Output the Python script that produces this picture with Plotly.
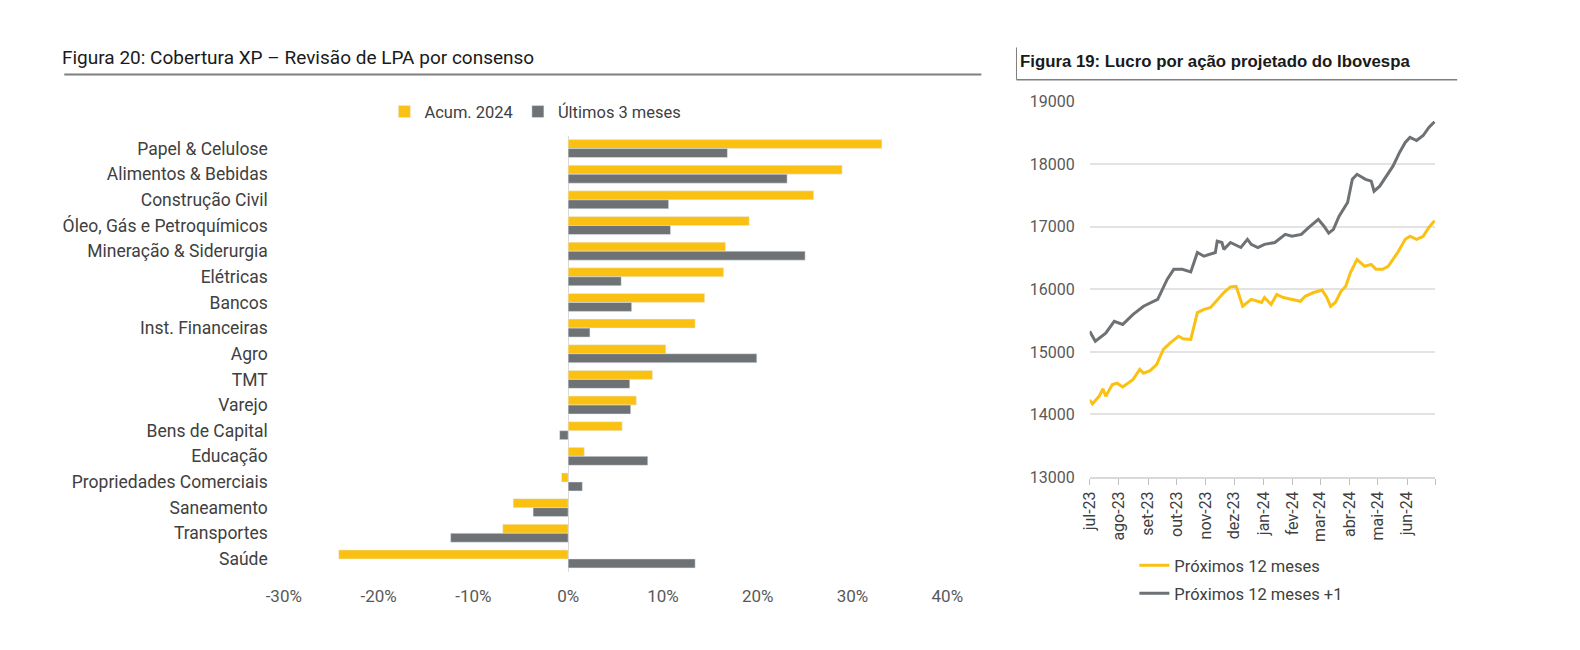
import plotly.graph_objects as go

# Figura 20 - revisao de LPA por setor (%)
setores = ["Papel & Celulose", "Alimentos & Bebidas", "Construção Civil",
           "Óleo, Gás e Petroquímicos", "Mineração & Siderurgia", "Elétricas",
           "Bancos", "Inst. Financeiras", "Agro", "TMT", "Varejo",
           "Bens de Capital", "Educação", "Propriedades Comerciais",
           "Saneamento", "Transportes", "Saúde"]
acum_2024 = [33.1, 28.9, 25.9, 19.1, 16.6, 16.4, 14.4, 13.4, 10.3, 8.9, 7.2,
             5.7, 1.7, -0.7, -5.8, -6.9, -24.2]
ultimos_3m = [16.8, 23.1, 10.6, 10.8, 25.0, 5.6, 6.7, 2.3, 19.9, 6.5, 6.6,
              -0.9, 8.4, 1.5, -3.7, -12.4, 13.4]
pct_ticks = [-30, -20, -10, 0, 10, 20, 30, 40]

# Figura 19 - LPA projetado do Ibovespa
datas_12m = ["2023-07-01", "2023-07-04", "2023-07-11", "2023-07-15", "2023-07-18",
             "2023-07-25", "2023-07-30", "2023-08-05", "2023-08-16", "2023-08-23",
             "2023-08-27", "2023-09-03", "2023-09-10", "2023-09-17", "2023-09-24",
             "2023-10-03", "2023-10-08", "2023-10-16", "2023-10-23", "2023-10-30",
             "2023-11-06", "2023-11-13", "2023-11-20", "2023-11-27", "2023-12-03",
             "2023-12-10", "2023-12-19", "2023-12-30", "2024-01-02", "2024-01-09",
             "2024-01-15", "2024-01-22", "2024-01-31", "2024-02-09", "2024-02-14",
             "2024-02-23", "2024-03-03", "2024-03-08", "2024-03-12", "2024-03-17",
             "2024-03-23", "2024-03-28", "2024-04-02", "2024-04-09", "2024-04-17",
             "2024-04-24", "2024-04-29", "2024-05-06", "2024-05-12", "2024-05-17",
             "2024-05-22", "2024-05-30", "2024-06-04", "2024-06-11", "2024-06-18",
             "2024-06-24", "2024-06-30"]
lpa_12m = [14235, 14170, 14290, 14410, 14290, 14480, 14500, 14440, 14560, 14720,
           14660, 14700, 14800, 15040, 15140, 15250, 15210, 15200, 15630, 15680,
           15710, 15830, 15950, 16040, 16050, 15730, 15840, 15790, 15870, 15760,
           15920, 15870, 15840, 15810, 15890, 15950, 15990, 15870, 15730, 15790,
           15970, 16050, 16270, 16480, 16370, 16400, 16320, 16320, 16370, 16480,
           16590, 16800, 16850, 16800, 16850, 16990, 17100]

datas_12m1 = ["2023-07-01", "2023-07-07", "2023-07-18", "2023-07-27", "2023-08-05",
              "2023-08-16", "2023-08-27", "2023-09-11", "2023-09-21", "2023-09-28",
              "2023-10-07", "2023-10-16", "2023-10-23", "2023-10-30", "2023-11-11",
              "2023-11-13", "2023-11-18", "2023-11-20", "2023-11-27", "2023-12-08",
              "2023-12-15", "2023-12-19", "2023-12-26", "2024-01-02", "2024-01-13",
              "2024-01-24", "2024-01-31", "2024-02-10", "2024-02-18", "2024-02-28",
              "2024-03-05", "2024-03-10", "2024-03-15", "2024-03-21", "2024-03-30",
              "2024-04-04", "2024-04-09", "2024-04-18", "2024-04-24", "2024-04-27",
              "2024-05-03", "2024-05-10", "2024-05-17", "2024-05-24", "2024-05-30",
              "2024-06-04", "2024-06-11", "2024-06-18", "2024-06-24", "2024-06-30"]
lpa_12m1 = [15330, 15170, 15300, 15490, 15440, 15600, 15730, 15840, 16160, 16320,
            16320, 16280, 16590, 16530, 16590, 16770, 16750, 16640, 16750, 16670,
            16800, 16720, 16670, 16720, 16750, 16880, 16850, 16880, 16990, 17120,
            17010, 16900, 16960, 17170, 17390, 17760, 17840, 17760, 17730, 17570,
            17650, 17810, 17970, 18190, 18350, 18430, 18380, 18460, 18590, 18680]

mes_vals = ["2023-07-01", "2023-08-01", "2023-09-01", "2023-10-01", "2023-11-01",
            "2023-12-01", "2024-01-01", "2024-02-01", "2024-03-01", "2024-04-01",
            "2024-05-01", "2024-06-01", "2024-07-01"]
mes_text = ["jul-23", "ago-23", "set-23", "out-23", "nov-23", "dez-23", "jan-24",
            "fev-24", "mar-24", "abr-24", "mai-24", "jun-24", ""]

AMARELO = "#FBC112"
CINZA = "#6E7275"
W, H = 1564, 634


def px(x):
    # posicao em pixels da pagina (a figura fica com 8px de margem do body)
    return (x - 8) / W


def py(y):
    return 1 - (y - 8) / H


fig = go.Figure()

fig.add_trace(go.Bar(y=setores, x=acum_2024, orientation="h", name="Acum. 2024",
                     marker_color=AMARELO, xaxis="x", yaxis="y"))
fig.add_trace(go.Bar(y=setores, x=ultimos_3m, orientation="h", name="Últimos 3 meses",
                     marker_color=CINZA, xaxis="x", yaxis="y"))

fig.add_trace(go.Scatter(x=datas_12m, y=lpa_12m, mode="lines", name="Próximos 12 meses",
                         line=dict(color=AMARELO, width=3), xaxis="x2", yaxis="y2",
                         legend="legend2"))
fig.add_trace(go.Scatter(x=datas_12m1, y=lpa_12m1, mode="lines", name="Próximos 12 meses +1",
                         line=dict(color=CINZA, width=3), xaxis="x2", yaxis="y2",
                         legend="legend3"))

fig.update_layout(
    width=W, height=H, autosize=False,
    margin=dict(l=0, r=0, t=0, b=0),
    plot_bgcolor="white", paper_bgcolor="white",
    font=dict(family="Roboto", size=15, color="#404040"),
    barmode="group", bargap=0.3, bargroupgap=0,
    xaxis=dict(domain=[px(271.5), px(949.8)], range=[-30, 40], tickvals=pct_ticks,
               ticktext=[f"{v}%" for v in pct_ticks], showgrid=False,
               zeroline=True, zerolinecolor="#D9D9D9", zerolinewidth=1,
               tickfont=dict(size=17, color="#595959"), ticklabelstandoff=12,
               anchor="y"),
    yaxis=dict(domain=[py(579.9), py(130.4)], autorange="reversed", showgrid=False,
               tickfont=dict(size=17.5, color="#404040"), ticklabelstandoff=15,
               anchor="x"),
    xaxis2=dict(domain=[px(1095.3), px(1448.8)], type="date",
                range=["2023-07-01", "2024-07-01"], tickvals=mes_vals, ticktext=mes_text,
                tickangle=-90, ticks="outside", ticklen=6, tickcolor="#BFBFBF",
                showline=True, linecolor="#D9D9D9", linewidth=2, showgrid=False,
                tickfont=dict(size=16, color="#404040"), anchor="y2"),
    yaxis2=dict(domain=[py(482.2), py(95.4)], range=[13000, 19000], dtick=1000,
                showgrid=True, gridcolor="#E3E3E3", gridwidth=2, zeroline=False,
                tickformat="d", tickfont=dict(size=16, color="#595959"),
                ticklabelstandoff=14, anchor="x2"),
    legend=dict(orientation="h", x=px(528.7), xanchor="center", y=py(105.8),
                yanchor="middle", font=dict(size=16.5, color="#404040"),
                bgcolor="rgba(0,0,0,0)"),
    legend2=dict(x=px(1141), xanchor="left", y=py(573.4), yanchor="middle",
                 font=dict(size=16.5, color="#404040"), bgcolor="rgba(0,0,0,0)"),
    legend3=dict(x=px(1141), xanchor="left", y=py(602.4), yanchor="middle",
                 font=dict(size=16.5, color="#404040"), bgcolor="rgba(0,0,0,0)"),
    showlegend=True,
)

# titulos e linhas separadoras
fig.add_annotation(text="Figura 20: Cobertura XP – Revisão de LPA por consenso",
                   xref="paper", yref="paper", x=px(42.6), y=py(49.8), xanchor="left",
                   yanchor="middle", showarrow=False,
                   font=dict(family="Roboto", size=19, color="#1A1A1A"))
fig.add_shape(type="line", xref="paper", yref="paper", x0=px(47.1), x1=px(984.6),
              y0=py(67.4), y1=py(67.4), line=dict(color="#7F7F7F", width=2))

fig.add_annotation(text="<b>Figura 19: Lucro por ação projetado do Ibovespa</b>",
                   xref="paper", yref="paper", x=px(1022), y=py(54), xanchor="left",
                   yanchor="middle", showarrow=False,
                   font=dict(family="Liberation Sans", size=16.8, color="#1A1A1A"))
fig.add_shape(type="line", xref="paper", yref="paper", x0=px(1020.5), x1=px(1471),
              y0=py(72.6), y1=py(72.6), line=dict(color="#7F7F7F", width=1.5))
fig.add_shape(type="line", xref="paper", yref="paper", x0=px(1020.5), x1=px(1020.5),
              y0=py(39.4), y1=py(72.6), line=dict(color="#7F7F7F", width=1))

fig.write_html("out.html")
